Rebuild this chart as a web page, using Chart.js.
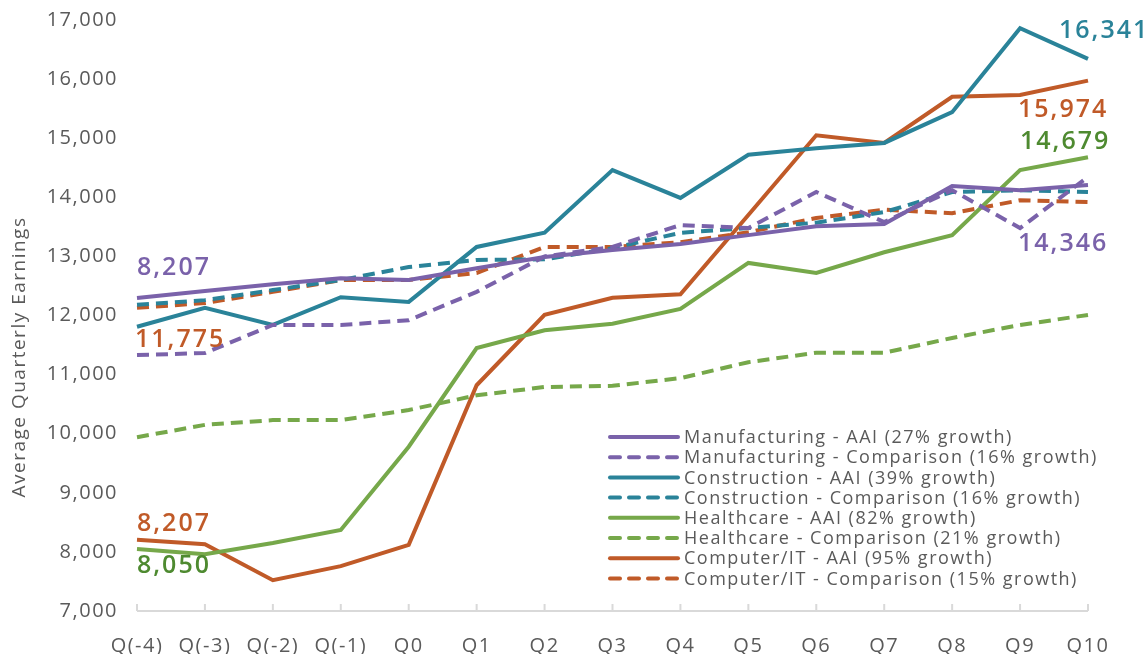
<!DOCTYPE html>
<html>
<head>
<meta charset="utf-8">
<script src="https://cdn.jsdelivr.net/npm/chart.js@4.4.1/dist/chart.umd.min.js"></script>
<style>
  html, body { margin: 0; padding: 0; background: #fff; }
  #wrap { width: 1148px; height: 654px; position: relative; }
</style>
</head>
<body>
<div id="wrap"><canvas id="chartCanvas" width="1148" height="654"></canvas></div>
<script>
// 季度標籤
var quarters = ['Q(-4)', 'Q(-3)', 'Q(-2)', 'Q(-1)', 'Q0', 'Q1', 'Q2', 'Q3', 'Q4', 'Q5', 'Q6', 'Q7', 'Q8', 'Q9', 'Q10'];

// 各產業平均季收入
var manufAAI   = [12296, 12415, 12530, 12630, 12600, 12800, 12990, 13110, 13210, 13360, 13510, 13550, 14190, 14120, 14210];
var manufComp  = [11330, 11365, 11840, 11840, 11920, 12400, 13000, 13160, 13530, 13480, 14090, 13580, 14120, 13480, 14346];
var constrAAI  = [11810, 12130, 11840, 12310, 12230, 13160, 13400, 14460, 13990, 14720, 14830, 14920, 15440, 16860, 16341];
var constrComp = [12180, 12260, 12430, 12600, 12820, 12940, 12950, 13140, 13400, 13480, 13570, 13750, 14090, 14120, 14090];
var healthAAI  = [8050, 7960, 8150, 8370, 9780, 11450, 11750, 11860, 12110, 12890, 12720, 13070, 13360, 14460, 14679];
var healthComp = [9940, 10150, 10230, 10230, 10400, 10650, 10790, 10810, 10940, 11210, 11370, 11370, 11620, 11840, 12010];
var compAAI    = [8207, 8130, 7520, 7760, 8120, 10820, 12010, 12300, 12360, 13700, 15050, 14920, 15700, 15730, 15974];
var compComp   = [12130, 12210, 12400, 12600, 12600, 12720, 13160, 13160, 13240, 13410, 13650, 13790, 13730, 13950, 13920];

var seriesNames = [
  'Manufacturing - AAI (27% growth)',
  'Manufacturing - Comparison (16% growth)',
  'Construction - AAI (39% growth)',
  'Construction - Comparison (16% growth)',
  'Healthcare - AAI (82% growth)',
  'Healthcare - Comparison (21% growth)',
  'Computer/IT - AAI (95% growth)',
  'Computer/IT - Comparison (15% growth)'
];

var yTicks = [7000, 8000, 9000, 10000, 11000, 12000, 13000, 14000, 15000, 16000, 17000];
var yTitle = 'Average Quarterly Earnings';

var PURPLE = '#7a62aa', TEAL = '#2a8399', GREEN = '#76a84a', ORANGE = '#c05a28';
var GREEN_TXT = '#4e8a30';
var DASH = [12, 7];

function ds(label, data, color, dashed) {
  return {
    label: label,
    data: data,
    borderColor: color,
    backgroundColor: color,
    borderWidth: 4,
    borderDash: dashed ? DASH : [],
    pointRadius: 0,
    tension: 0,
    fill: false
  };
}

var datasets = [
  ds(seriesNames[0], manufAAI, PURPLE, false),
  ds(seriesNames[1], manufComp, PURPLE, true),
  ds(seriesNames[2], constrAAI, TEAL, false),
  ds(seriesNames[3], constrComp, TEAL, true),
  ds(seriesNames[4], healthAAI, GREEN, false),
  ds(seriesNames[5], healthComp, GREEN, true),
  ds(seriesNames[6], compAAI, ORANGE, false),
  ds(seriesNames[7], compComp, ORANGE, true)
];

var FONT = '"Open Sans", "DejaVu Sans", sans-serif';
var GRAY = '#5a5a5a';

// 數值標註：錨定在某條線的某個點上，再加偏移
var callouts = [
  { ds: 0, idx: 0, text: '8,207', color: PURPLE, dx: 0, dy: -30 },
  { ds: 1, idx: 0, text: '11,775', color: ORANGE, dx: -2, dy: -15 },
  { ds: 6, idx: 0, text: '8,207', color: ORANGE, dx: 0, dy: -16 },
  { ds: 4, idx: 0, text: '8,050', color: GREEN_TXT, dx: 0, dy: 17 },
  { ds: 2, idx: 14, text: '16,341', color: TEAL, dx: -29, dy: -28 },
  { ds: 6, idx: 14, text: '15,974', color: ORANGE, dx: -70, dy: 29 },
  { ds: 4, idx: 14, text: '14,679', color: GREEN_TXT, dx: -68, dy: -15 },
  { ds: 1, idx: 14, text: '14,346', color: PURPLE, dx: -70, dy: 67 }
];

// 字距放寬，接近原圖的寬字體
var spacingPlugin = {
  id: 'spacing',
  beforeLayout: function(chart) { chart.ctx.letterSpacing = '1.5px'; },
  beforeDraw: function(chart) { chart.ctx.letterSpacing = '1.5px'; }
};

var calloutPlugin = {
  id: 'callouts',
  afterDatasetsDraw: function(chart) {
    var ctx = chart.ctx;
    ctx.save();
    ctx.letterSpacing = '2px';
    ctx.font = '600 25px ' + FONT;
    ctx.textBaseline = 'middle';
    ctx.textAlign = 'left';
    for (var i = 0; i < callouts.length; i++) {
      var c = callouts[i];
      var pt = chart.getDatasetMeta(c.ds).data[c.idx];
      ctx.fillStyle = c.color;
      ctx.fillText(c.text, pt.x + c.dx, pt.y + c.dy);
    }
    ctx.restore();
  }
};

// 圖例畫在圖內右下，y 軸標題自己畫
var legendPlugin = {
  id: 'innerLegend',
  afterDraw: function(chart) {
    var ctx = chart.ctx;
    var x0 = 608, y0 = 437, rowH = 20.2;
    ctx.save();
    ctx.letterSpacing = '1.5px';
    ctx.font = '18px ' + FONT;
    ctx.textBaseline = 'middle';
    for (var i = 0; i < chart.data.datasets.length; i++) {
      var d = chart.data.datasets[i];
      var y = y0 + i * rowH;
      ctx.strokeStyle = d.borderColor;
      ctx.lineWidth = 4;
      ctx.lineCap = 'round';
      ctx.setLineDash(d.borderDash.length ? [10, 9] : []);
      ctx.beginPath();
      ctx.moveTo(x0 + 2, y);
      ctx.lineTo(x0 + 70, y);
      ctx.stroke();
      ctx.setLineDash([]);
      ctx.fillStyle = GRAY;
      ctx.fillText(d.label, x0 + 76, y + 1);
    }
    // y 軸標題
    ctx.translate(20, 357);
    ctx.rotate(-Math.PI / 2);
    ctx.textAlign = 'center';
    ctx.font = '19px ' + FONT;
    ctx.fillText(yTitle, 0, 0);
    ctx.restore();
  }
};

// x 軸刻度朝上
var tickPlugin = {
  id: 'upTicks',
  afterDraw: function(chart) {
    var xs = chart.scales.x;
    var ctx = chart.ctx;
    var yb = chart.chartArea.bottom;
    ctx.save();
    ctx.strokeStyle = '#d9d9d9';
    ctx.lineWidth = 2;
    ctx.beginPath();
    ctx.moveTo(chart.chartArea.left, yb);
    ctx.lineTo(chart.chartArea.right, yb);
    for (var i = 0; i < xs.ticks.length; i++) {
      var px = xs.getPixelForTick(i);
      ctx.moveTo(px, yb);
      ctx.lineTo(px, yb - 7);
    }
    ctx.stroke();
    ctx.restore();
  }
};

var ctx = document.getElementById('chartCanvas').getContext('2d');
new Chart(ctx, {
  type: 'line',
  data: { labels: quarters, datasets: datasets },
  plugins: [spacingPlugin, tickPlugin, calloutPlugin, legendPlugin],
  options: {
    responsive: false,
    animation: false,
    layout: { padding: { top: 20, right: 60, left: 0, bottom: 0 } },
    plugins: {
      legend: { display: false },
      tooltip: { enabled: false }
    },
    scales: {
      x: {
        offset: false,
        grid: { display: false, drawTicks: false },
        border: { display: false },
        ticks: { color: GRAY, font: { family: FONT, size: 20 }, padding: 23, maxRotation: 0, autoSkip: false },
        afterFit: function(scale) { scale.height = 43; scale.paddingLeft = 0; scale.paddingRight = 0; }
      },
      y: {
        min: 7000,
        max: 17000,
        afterBuildTicks: function(scale) {
          scale.ticks = yTicks.map(function(v) { return { value: v }; });
        },
        grid: { display: false, drawTicks: false },
        border: { display: false },
        ticks: {
          color: GRAY,
          font: { family: FONT, size: 20 },
          padding: 19,
          callback: function(v) { return v.toLocaleString('en-US'); }
        },
        afterFit: function(scale) { scale.width = 137; scale.paddingTop = 0; scale.paddingBottom = 0; }
      }
    }
  }
});
</script>
</body>
</html>
